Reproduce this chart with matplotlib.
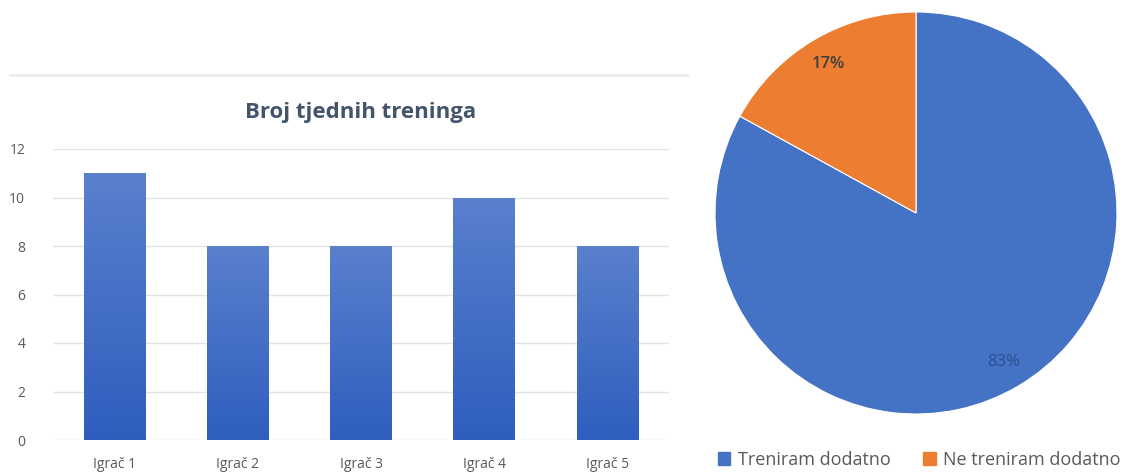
import numpy as np
import matplotlib
matplotlib.use("Agg")
import matplotlib.pyplot as plt
from matplotlib.colors import LinearSegmentedColormap
from matplotlib.lines import Line2D
from matplotlib.patches import Patch

# podaci
igraci = ["Igrač 1", "Igrač 2", "Igrač 3", "Igrač 4", "Igrač 5"]
treninzi = [11, 8, 8, 10, 8]
yticks = [0, 2, 4, 6, 8, 10, 12]

pie_labels = ["Treniram dodatno", "Ne treniram dodatno"]
pie_values = [83, 17]
pie_colors = ["#4472C4", "#ED7D31"]

plt.rcParams['font.family'] = ['Open Sans', 'DejaVu Sans']

fig = plt.figure(figsize=(11.26, 4.75), dpi=100)

# tanka linija iznad grafa
fig.add_artist(Line2D([10 / 1126, 688 / 1126], [1 - 75 / 475, 1 - 75 / 475],
                      color="#EDEDED", lw=2))

# stupcasti graf
ax = fig.add_axes([53 / 1126, 35 / 475, 616 / 1126, 291 / 475])
x = np.arange(len(igraci))
bars = ax.bar(x, treninzi, width=0.5, color="#4472C4", zorder=2)

grad = LinearSegmentedColormap.from_list("g", ["#2F5EBF", "#5A80CD"])
for b in bars:
    b.set_facecolor("none")
    x0, y0 = b.get_x(), b.get_y()
    w, h = b.get_width(), b.get_height()
    img = ax.imshow(np.linspace(0, 1, 100).reshape(-1, 1), cmap=grad, origin="lower",
                    extent=[x0, x0 + w, y0, y0 + h], aspect="auto", zorder=2)
    img.set_clip_path(b)

ax.set_xlim(-0.5, len(igraci) - 0.5)
ax.set_ylim(0, 12)
ax.set_yticks(yticks)
ax.set_xticks(x)
ax.set_xticklabels(igraci)
ax.grid(axis="y", color="#E3E3E3", lw=1, zorder=0)
for s in ax.spines.values():
    s.set_visible(False)
ax.tick_params(length=0, colors="#595959", labelsize=10, pad=12)
ax.tick_params(axis="y", pad=20)
ax.set_title("Broj tjednih treninga", fontsize=16, fontweight="bold",
             color="#44546A", pad=22)

# pita
ax2 = fig.add_axes([(916 - 201) / 1126, (475 - 414) / 475, 402 / 1126, 402 / 475])
wedges, texts, autotexts = ax2.pie(pie_values, colors=pie_colors, startangle=90,
                                   counterclock=False, autopct="%1.0f%%",
                                   pctdistance=0.86,
                                   wedgeprops=dict(edgecolor="white", linewidth=0.8),
                                   textprops=dict(fontsize=12))
autotexts[0].set_color("#2E4F8F")
autotexts[1].set_color("#404040")
autotexts[1].set_fontweight("semibold")
ax2.set_xlim(-1, 1)
ax2.set_ylim(-1, 1)
ax2.set_aspect("equal")

handles = [Patch(color=c) for c in pie_colors]
fig.legend(handles, pie_labels, loc="center", bbox_to_anchor=(919 / 1126, 1 - 460 / 475),
           ncol=2, frameon=False, fontsize=13, handlelength=0.7, handleheight=0.7,
           handletextpad=0.4, columnspacing=1.8, labelcolor="#595959")

fig.savefig("out.png", dpi=100)
